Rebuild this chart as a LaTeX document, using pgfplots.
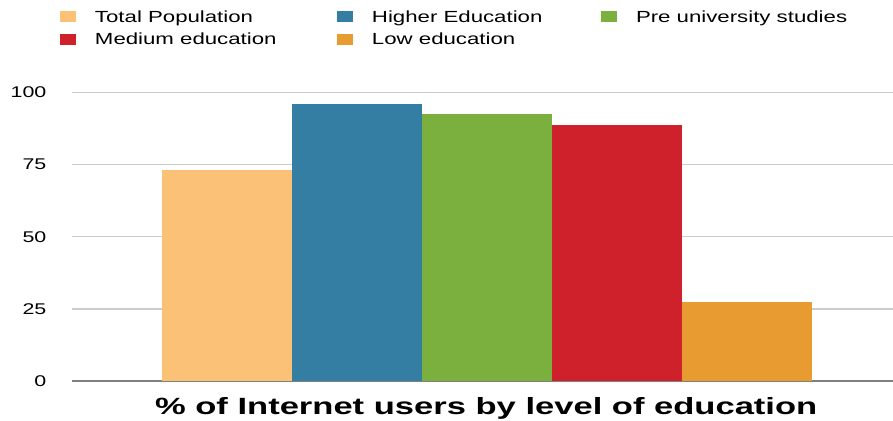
\documentclass[border=0pt]{standalone}
\usepackage{fontspec}
\setmainfont{Liberation Sans}[FakeStretch=1.38]
\newfontfamily\titlefont{Liberation Sans}[FakeStretch=1.47]
\usepackage{pgfplots}
\pgfplotsset{compat=1.18}
\definecolor{cTotal}{HTML}{FBC176}
\definecolor{cHigher}{HTML}{347DA3}
\definecolor{cPre}{HTML}{7BB03E}
\definecolor{cMedium}{HTML}{CE212B}
\definecolor{cLow}{HTML}{E89B30}
\definecolor{gridc}{HTML}{CCCCCC}
\definecolor{axisc}{HTML}{808080}
\begin{document}
\begin{tikzpicture}
\useasboundingbox (0,0) rectangle (893pt,420pt);
\begin{axis}[
  at={(72pt,39pt)}, anchor=south west,
  scale only axis, width=821pt, height=288.5pt,
  xmin=0, xmax=821, ymin=0, ymax=100,
  axis x line=bottom, axis y line=left,
  x axis line style={-, draw=axisc, line width=2pt},
  y axis line style={draw=none},
  xtick=\empty,
  ytick={0,25,50,75,100},
  ymajorgrids,
  major grid style={draw=gridc, line width=1.4pt},
  major tick length=0pt,
  /pgf/number format/assume math mode=true,
  yticklabel style={font=\fontsize{15.5}{15.5}\selectfont, anchor=east, inner sep=0pt, xshift=-25.5pt},
  ybar, bar width=130, bar shift=0pt,
  legend columns=3,
  legend cell align=left,
  legend image code/.code={\fill[#1] (0pt,-5.5pt) rectangle (16pt,5.5pt);},
  legend style={at={(axis description cs:-0.01462,1.2825)}, anchor=north west,
    draw=none, fill=none, inner sep=0pt, outer sep=0pt, row sep=10.6pt,
    /tikz/every odd column/.style={column sep=19pt},
    /tikz/every even column/.style={column sep=0pt},
    nodes={inner sep=0pt, text height=11.7pt, text depth=0pt, font=\fontsize{16.1}{16.1}\selectfont}},
  xlabel={\titlefont\bfseries\fontsize{23.5}{23.5}\selectfont \% of Internet users by level of education},
  xlabel style={at={(axis description cs:0.5045,0)}, anchor=base, inner sep=0pt, yshift=-33.4pt},
]
\addplot[fill=cTotal, draw=none] coordinates {(155.3,73.1)};
\addlegendentry{\makebox[242pt][l]{Total Population}}
\addplot[fill=cHigher, draw=none] coordinates {(285.3,96.0)};
\addlegendentry{\makebox[229pt][l]{Higher Education}}
\addplot[fill=cPre, draw=none] coordinates {(415.3,92.5)};
\addlegendentry{Pre university studies}
\addplot[fill=cMedium, draw=none] coordinates {(545.3,88.8)};
\addlegendentry{\makebox[242pt][l]{Medium education}}
\addplot[fill=cLow, draw=none] coordinates {(675.3,27.3)};
\addlegendentry{\makebox[229pt][l]{Low education}}
\end{axis}
\end{tikzpicture}
\end{document}
